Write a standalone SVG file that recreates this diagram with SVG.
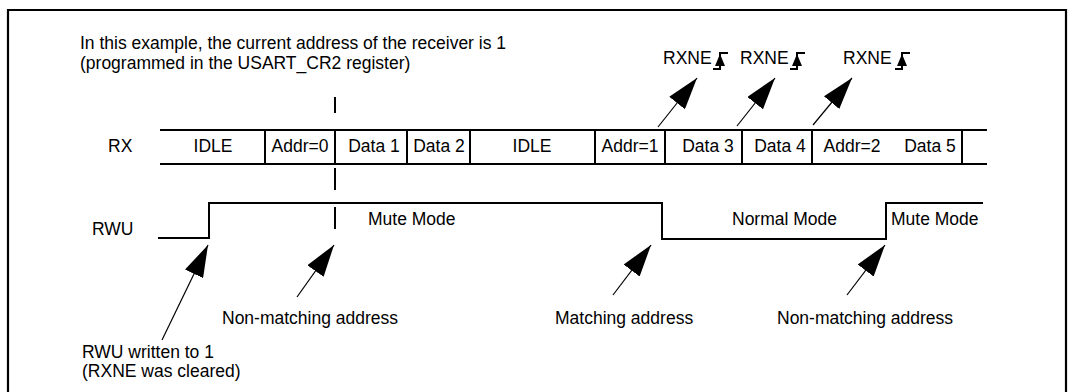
<svg xmlns="http://www.w3.org/2000/svg" width="1074" height="392" viewBox="0 0 1074 392">
<defs>
<style>
text{font-family:"Liberation Sans",Arial,sans-serif;font-size:17.5px;fill:#000}
.c{text-anchor:middle}
.sig{fill:none;stroke:#000;stroke-width:2}
.thin{fill:none;stroke:#000;stroke-width:1.2}
.frame{fill:none;stroke:#000;stroke-width:2.2}
</style>
<marker id="ah" viewBox="0 -10 32 20" refX="32" refY="0" markerWidth="32" markerHeight="20" markerUnits="userSpaceOnUse" orient="auto">
<path d="M0,-10 L32,0 L0,10 Z" fill="#000"/>
</marker>
</defs>
<rect width="1074" height="392" fill="#fff"/>
<path class="frame" d="M8,400 V10 H1066 V400"/>

<g id="note">
<text x="80" y="49">In this example, the current address of the receiver is 1</text>
<text x="80" y="68.5">(programmed in the USART_CR2 register)</text>
</g>

<g id="rx">
<text x="108" y="152">RX</text>
<path class="sig" d="M160,130 H987 M160,164 H987 M265,130 V164 M335,130 V164 M407,130 V164 M470,130 V164 M595,130 V164 M665,130 V164 M742,130 V164 M812,130 V164 M962,130 V164"/>
<text class="c" x="213" y="152">IDLE</text>
<text class="c" x="300" y="152">Addr=0</text>
<text class="c" x="374" y="152">Data 1</text>
<text class="c" x="439" y="152">Data 2</text>
<text class="c" x="532" y="152">IDLE</text>
<text class="c" x="630" y="152">Addr=1</text>
<text class="c" x="708" y="152">Data 3</text>
<text class="c" x="780" y="152">Data 4</text>
<text class="c" x="852" y="152">Addr=2</text>
<text class="c" x="930" y="152">Data 5</text>
</g>

<g id="rwu">
<text x="92" y="235">RWU</text>
<path class="sig" d="M158,238 H209 V203 H662 V239 H886 V203 H983"/>
<text x="368" y="225">Mute Mode</text>
<text x="732" y="225">Normal Mode</text>
<text x="891" y="225">Mute Mode</text>
</g>

<g id="mute-marker">
<path class="sig" d="M335,97 V113 M335,168 V190 M335,207 V229"/>
</g>

<g id="rxne1">
<text x="663" y="64">RXNE</text>
<path class="sig" d="M713,69 H720 V53 H728"/>
<polygon points="720,54 725,66 715,66" fill="#000"/>
</g>
<g id="rxne2">
<text x="740" y="64">RXNE</text>
<path class="sig" d="M790,69 H797 V53 H805"/>
<polygon points="797,54 802,66 792,66" fill="#000"/>
</g>
<g id="rxne3">
<text x="843" y="64">RXNE</text>
<path class="sig" d="M895,69 H902 V53 H910"/>
<polygon points="902,54 907,66 897,66" fill="#000"/>
</g>

<g id="labels">
<text x="222" y="324">Non-matching address</text>
<text x="555" y="324">Matching address</text>
<text x="777" y="324">Non-matching address</text>
<text x="82" y="358">RWU written to 1</text>
<text x="82" y="377">(RXNE was cleared)</text>
</g>

<g id="connectors">
<line class="thin" x1="658" y1="127" x2="697" y2="78" marker-end="url(#ah)"/>
<line class="thin" x1="737" y1="126" x2="775" y2="78" marker-end="url(#ah)"/>
<line class="thin" x1="813" y1="125" x2="852" y2="78" marker-end="url(#ah)"/>
<line class="thin" x1="162" y1="340" x2="208" y2="245" marker-end="url(#ah)"/>
<line class="thin" x1="297" y1="297" x2="334" y2="245" marker-end="url(#ah)"/>
<line class="thin" x1="613" y1="295" x2="651" y2="245" marker-end="url(#ah)"/>
<line class="thin" x1="847" y1="295" x2="885" y2="245" marker-end="url(#ah)"/>
</g>
</svg>
